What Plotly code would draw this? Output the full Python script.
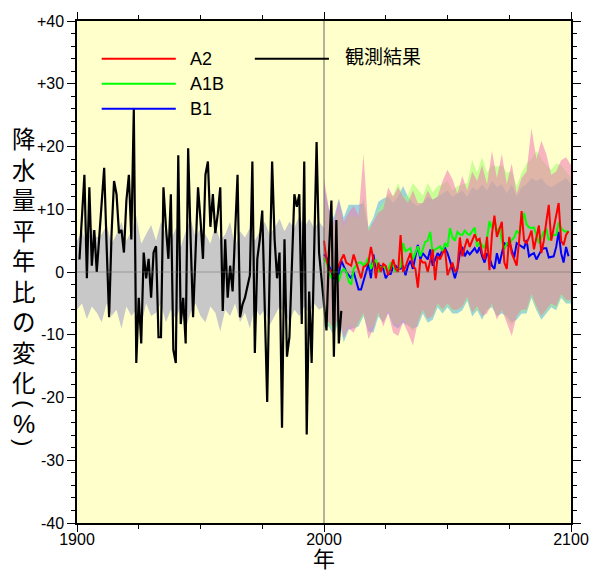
import plotly.graph_objects as go

# ---------------- data ----------------
obs_years = list(range(1901, 2008))
obs = [2, 9.3, 15.5, -1, 13.5, 1, 6.7, 0, 5.2, 10.4,
       16.6, 4.1, -7.2, 6.2, 14.5, 12.4, 6.2, 6.7, 3.1, 11.4,
       15.5, 5.2, 26, -14.5, -4.1, -11.4, 3.1, -1, 2.1, -4.1,
       3.1, 4.1, -10.4, -10.4, 13.5, 7.2, 2.1, 12.4, -12.4, -14.5,
       18.6, -8.3, -4.1, -11.4, 19.7, 5.2, -7.2, 3.1, 13.5, 8.3,
       2.1, 15.5, 17.6, 7.2, 12.4, 6.2, 9.3, 13.5, -6.2, 5.2,
       -4.1, 1, -3.1, 6.2, 15.5, -7.2, -5.2, -4.1, -2.1, -0.5,
       17.6, -12.9, 2.1, 5.2, 9.8, -5.2, -20.7, 0, 17.6, 5.2,
       -1, 3.1, -24.8, 5.2, -13.5, -10.4, 2.1, 12.4, 10.4, 12.4,
       -8.3, 17.6, -25.9, -3.1, -14.5, 3.1, 20.7, 3.1, -1, -4.1,
       -9.3, 3.1, 11.4, -13.5, 8.3, -11.4, -6.2]

hist_years = list(range(1900, 2001, 2))
hist_hi = [5, 6.5, 4.5, 7, 5.5, 6, 7.5, 4.5, 6, 8,
           5, 6.5, 9, 4.5, 6, 7.5, 5, 8, 6, 5,
           7, 4, 6.5, 8.5, 5.5, 7, 6, 4.5, 7.5, 5,
           6, 8, 4, 6.5, 5.5, 7, 5, 6.5, 8, 6,
           7, 8.5, 6.5, 8, 7, 9, 7, 8.5, 7, 8, 7]
hist_lo = [-6, -5, -7.5, -5.5, -6.5, -8, -5, -7, -6, -9,
           -5.5, -7, -6, -8.5, -5, -7, -6.5, -5, -8, -6,
           -7.5, -5.5, -9, -6.5, -5, -7, -8, -5.5, -6.5, -9.5,
           -6, -7, -5, -8, -6.5, -9, -5.5, -7, -6, -8.5,
           -7, -5.5, -6.5, -8, -6, -7, -5.5, -6.5, -5, -6, -5.5]

proj_years = list(range(2000, 2100))
a2 = [5, 2, 0.5, 0, -0.8, 0, 1, 2, 2.8, 1.5,
      1.2, 1, 2.8, 1.5, 0.5, -1, 0.8, 1, 1.5, 4,
      2, -1, 1.5, 0, 1.3, 1, -0.5, 0.5, 2, 0.5,
      0, 5.9, 0, 0.8, 2, 3, 1, 0.5, -2.5, 2,
      1.5, 1.5, 0, 2, 3.6, -1.3, 2.5, 2, 3, 3.6,
      -0.5, 0.5, 1.5, 0, 0.5, 5.5, 2.5, 4, 5.3, 4,
      5, 6, 5, 5.3, 3, 2, 5.6, 0.3, 6, 9,
      5.6, 7, 8, 1.5, 0.5, 5.6, 3, 2, 1, 5,
      9.7, 5, 4.6, 5.5, 6.6, 3.6, 5.5, 7.4, 3, 5,
      8, 10.7, 5, 7, 9, 11, 5, 4.3, 5.9, 6.5]
a1b = [2.3, 1.5, 0, -1, 0, 0.5, -1.5, 0, 0.5, 0,
       -1.5, -2, 0.5, 1, 1.5, 1.5, 1, 1.5, 2.3, 0.5,
       1.5, 2, 0, 0.8, 1, 0.5, 0.3, 1.5, 1, 0,
       0.5, 0.8, 4.6, 3.3, 3.5, 3.8, 2, 3, 4.1, 2.5,
       3.8, 4.8, 5, 6.4, 3, 3.6, 3.8, 4.1, 3.3, 4.6,
       4, 7, 5.5, 5, 6.4, 6, 5.9, 6.6, 6.1, 5.9,
       6.5, 7.1, 4, 4.8, 4.3, 3.8, 5.3, 8.1, 7, 8.4,
       6.4, 7.1, 5, 3.6, 4.6, 4.3, 5.1, 5.5, 6.6, 6.1,
       8, 9.4, 7.6, 7.1, 7, 7.1, 5.9, 4.6, 5.5, 6.4,
       6.9, 5.1, 5.5, 5.9, 5.9, 7.9, 7, 6.6, 6.4, 6.5]
b1 = [2.8, 2.3, 1, 0, -1, -0.8, -0.3, 1.8, 0.8, 0,
      -0.5, -1, 0, -1.5, -2.8, -2.8, -1.5, 0, 1.3, -1,
      2.8, 0.5, 1, 1, 0.5, -1, -0.3, -0.3, 0.8, 1,
      0.5, 0.5, 1, -0.5, 1, 1.8, 0.5, 2.5, 4.3, 2,
      3, 2.5, 2, 3.6, 1, 2, 3, 2.5, 3.6, 3.8,
      3, 1.8, 0.5, -1, 0.5, 3, 4, 2.5, 3.3, 2.8,
      3.3, 3.8, 3, 4, 2.5, 1.5, 3, 2.3, 1, 0.5,
      3, 1.3, 3, 4.6, 4.3, 4.8, 3.5, 2.3, 4.6, 4.3,
      4, 3.8, 5.1, 2.5, 2.8, 3, 2, 2.8, 3.5, 3.8,
      3.8, 2.3, 2.4, 2.5, 4, 6.4, 3, 1.5, 4, 2.5]

band_years = list(range(2000, 2101, 2))
a2_hi = [15, 10, 8, 11.5, 8, 9.5, 10.5, 9, 18.8, 6.5,
         8, 9.5, 10, 13.5, 12, 13.5, 12, 11, 13, 11,
         11, 13, 11.5, 12, 14.5, 16.3, 14.8, 12.5, 15.3, 13,
         16, 14.5, 17, 14, 19.3, 15, 18.8, 14, 17.3, 12.5,
         15, 16, 22.9, 18, 20.9, 18.8, 15.5, 16, 17.8, 18.3, 17]
a2_lo = [-7.5, -8, -9, -7, -10.5, -9, -9.7, -8, -6.5, -10.7,
         -9, -6.5, -8.7, -6.6, -9.7, -10.2, -8, -9.7, -11.7, -8,
         -6, -7.5, -7, -5, -6, -5, -6, -6, -5.5, -4,
         -6.5, -5.5, -7, -6.6, -5, -7.6, -6, -8.1, -10.2, -7,
         -6, -6, -3.5, -5.5, -7, -6, -5, -5.5, -3.5, -4.5, -4.5]
a1b_hi = [12, 9, 7.5, 10, 7, 9, 9, 8.5, 12, 7,
          7.5, 10, 11, 12.5, 12.2, 14.2, 12, 12.2, 14.2, 13.2,
          12.2, 14.2, 12.7, 13.7, 14, 14.5, 13, 13.7, 14, 14.2,
          17.8, 15.8, 18.3, 15.8, 17, 16.8, 17, 15.8, 16, 13.7,
          15.8, 17.3, 18, 19.3, 18, 17, 16.3, 17.3, 17, 16, 15]
a1b_lo = [-8, -8.5, -9.5, -7.2, -10, -8.5, -9, -8.2, -6.8, -9,
          -8.5, -6.8, -8, -6, -8, -8.5, -7.5, -8.5, -9.5, -8,
          -6.2, -7.5, -7, -5.2, -6.2, -5.2, -6.2, -6, -5.6, -4.3,
          -6.5, -5.8, -7, -6.2, -5.3, -7, -6.2, -7.5, -8.5, -7,
          -6.2, -6.2, -3.8, -5.8, -7, -6.2, -5.2, -5.8, -3.8, -4.7, -4.7]
b1_hi = [13.7, 10, 8.7, 11.7, 8.7, 10.7, 10.7, 10.7, 11, 7.1,
         8.7, 11.2, 11.7, 12, 11, 12, 13.7, 12, 11, 10.5,
         11, 12, 11.5, 12, 12.5, 13, 12, 12.5, 13, 12,
         13.5, 13, 14, 13, 14.5, 13.5, 14, 12.5, 14, 12,
         13.5, 14, 15, 14.5, 15, 14, 13.5, 14, 14.5, 15, 14]
b1_lo = [-8.7, -8.7, -10.2, -7.6, -11.2, -9.2, -9, -8.7, -7, -9.5,
         -9.7, -7.1, -8, -6.5, -8.5, -9, -8.1, -8.5, -9, -8.7,
         -6.6, -8.1, -7.6, -5.6, -6.6, -5.6, -6.6, -6.6, -6.1, -4.6,
         -7.1, -6.1, -7.6, -6, -5.6, -7, -6.6, -7, -8, -7.6,
         -6.6, -6.6, -4.1, -6.1, -7.6, -6.6, -5.6, -6.1, -4.1, -5, -5]

y_tickvals = [40, 30, 20, 10, 0, -10, -20, -30, -40]
y_ticktext = ["+40", "+30", "+20", "+10", "0", "-10", "-20", "-30", "-40"]
x_tickvals = [1900, 2000, 2100]
x_ticktext = ["1900", "2000", "2100"]

legend_names = ["A2", "A1B", "B1"]
legend_colors = ["#FF0000", "#00FF00", "#0000FF"]
legend_levels = [34, 30, 26]
obs_name = "観測結果"
y_title_chars = ["降", "水", "量", "平", "年", "比", "の", "変", "化"]
y_title_unit = ["(", "%", ")"]
x_title = "年"

# ---------------- figure ----------------
fig = go.Figure()

def band(xs, hi, lo, color):
    fig.add_trace(go.Scatter(x=xs + xs[::-1], y=hi + lo[::-1], fill="toself",
                             fillcolor=color, line=dict(width=0), mode="lines",
                             hoverinfo="skip", showlegend=False))

band(hist_years, hist_hi, hist_lo, "#C8C8C8")
band(band_years, b1_hi, b1_lo, "rgba(60,170,230,0.5)")
band(band_years, a1b_hi, a1b_lo, "rgba(150,255,100,0.5)")
band(band_years, a2_hi, a2_lo, "rgba(240,120,180,0.55)")

for ys, col in [(b1, "#0000FF"), (a1b, "#00FF00"), (a2, "#FF0000")]:
    fig.add_trace(go.Scatter(x=proj_years, y=ys, mode="lines",
                             line=dict(color=col, width=2), showlegend=False))

fig.add_trace(go.Scatter(x=obs_years, y=obs, mode="lines",
                         line=dict(color="#000000", width=2.2), showlegend=False))

# reference lines
fig.add_shape(type="line", xref="x", yref="paper", x0=2000, x1=2000, y0=0, y1=1,
              line=dict(color="#666666", width=1), layer="above")
fig.add_shape(type="line", xref="paper", yref="y", x0=0, x1=1, y0=0, y1=0,
              line=dict(color="rgba(110,110,110,0.55)", width=1), layer="above")

# manual legend
for name, col, lev in zip(legend_names, legend_colors, legend_levels):
    fig.add_shape(type="line", xref="x", yref="y", x0=1910, x1=1940, y0=lev, y1=lev,
                  line=dict(color=col, width=2))
    fig.add_annotation(x=1945, y=lev, xref="x", yref="y", text=name, showarrow=False,
                       xanchor="left", yanchor="middle",
                       font=dict(family="Liberation Sans, Arial", size=18, color="black"))
fig.add_shape(type="line", xref="x", yref="y", x0=1972, x1=2002, y0=34, y1=34,
              line=dict(color="#000000", width=2))
fig.add_annotation(x=2007.5, y=34.5, xref="x", yref="y", text=obs_name, showarrow=False,
                   xanchor="left", yanchor="middle",
                   font=dict(family="Noto Sans CJK JP", size=19, color="black"))

# y-axis title, stacked vertically
PT, PB, PL, PR = 17, 523, 77, 578
fig.add_annotation(x=(23 - PL) / (PR - PL), y=(PB - 258) / (PB - PT),
                   xref="paper", yref="paper", text="<br>".join(y_title_chars),
                   showarrow=False, xanchor="center", yanchor="middle",
                   font=dict(family="Noto Sans CJK JP", size=23.5, color="black"))
unit_px = [403, 423, 442]
unit_angle = [90, 0, 90]
for ch, py, ang in zip(y_title_unit, unit_px, unit_angle):
    fig.add_annotation(x=(23 - PL) / (PR - PL), y=(PB - py) / (PB - PT),
                       xref="paper", yref="paper", text=ch, showarrow=False,
                       xanchor="center", yanchor="middle", textangle=ang,
                       font=dict(family="Liberation Sans, Arial", size=22 if ch != "%" else 25,
                                 color="black"))
fig.add_annotation(x=(327.5 - PL) / (PR - PL), y=(PB - 575) / (PB - PT),
                   xref="paper", yref="paper", text=x_title, showarrow=False,
                   xanchor="center", yanchor="bottom",
                   font=dict(family="Noto Sans CJK JP", size=22, color="black"))

fig.update_layout(
    width=601, height=575,
    margin=dict(l=PL, r=601 - PR, t=PT, b=575 - PB),
    paper_bgcolor="white", plot_bgcolor="#FFFFCC",
    showlegend=False,
    font=dict(family="Liberation Sans, Arial", color="black"),
)
fig.update_xaxes(range=[1900, 2100], tickmode="array", tickvals=x_tickvals, ticktext=x_ticktext,
                 ticks="outside", ticklen=7, tickwidth=1, tickcolor="black",
                 showline=True, linecolor="black", linewidth=1.5, mirror="ticks",
                 showgrid=False, zeroline=False, ticklabelstandoff=-6,
                 tickfont=dict(family="Liberation Sans, Arial", size=16, color="black"),
                 minor=dict(tick0=1900, dtick=25, ticks="outside", ticklen=4, tickcolor="black",
                            showgrid=False))
fig.update_yaxes(range=[-40, 40], tickmode="array", tickvals=y_tickvals, ticktext=y_ticktext,
                 ticks="outside", ticklen=8, tickwidth=1, tickcolor="black",
                 showline=True, linecolor="black", linewidth=1.5, mirror="ticks",
                 showgrid=False, zeroline=False,
                 tickfont=dict(family="Liberation Sans, Arial", size=16, color="black"),
                 minor=dict(tick0=0, dtick=2, ticks="outside", ticklen=4, tickcolor="black",
                            showgrid=False))

fig.write_html("out.html")
